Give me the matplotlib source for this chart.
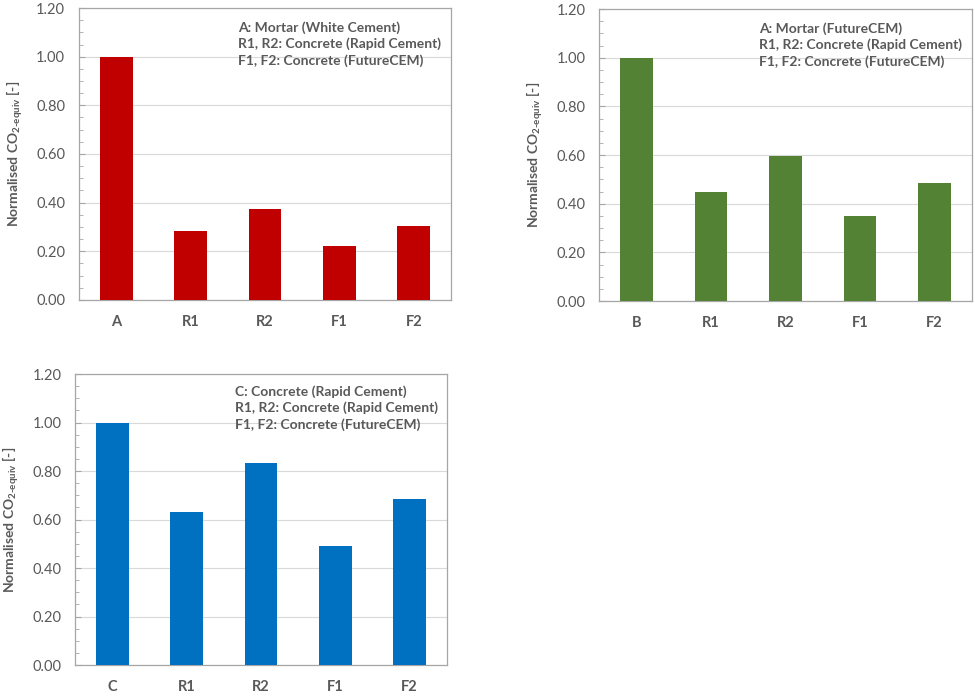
import matplotlib
matplotlib.use("Agg")
import matplotlib.pyplot as plt
from matplotlib.ticker import MultipleLocator, FormatStrFormatter

plt.rcParams['font.family'] = ['Lato', 'DejaVu Sans']
plt.rcParams['mathtext.fontset'] = 'custom'
plt.rcParams['mathtext.rm'] = 'Lato:bold'
plt.rcParams['mathtext.bf'] = 'Lato:bold'
plt.rcParams['mathtext.it'] = 'Lato:bold'

# Data
cats_a = ["A", "R1", "R2", "F1", "F2"]
vals_a = [1.00, 0.283, 0.374, 0.220, 0.304]
cats_b = ["B", "R1", "R2", "F1", "F2"]
vals_b = [1.00, 0.450, 0.595, 0.351, 0.487]
cats_c = ["C", "R1", "R2", "F1", "F2"]
vals_c = [1.00, 0.632, 0.835, 0.493, 0.683]

notes_a = ["A: Mortar (White Cement)", "R1, R2: Concrete (Rapid Cement)", "F1, F2: Concrete (FutureCEM)"]
notes_b = ["A: Mortar (FutureCEM)", "R1, R2: Concrete (Rapid Cement)", "F1, F2: Concrete (FutureCEM)"]
notes_c = ["C: Concrete (Rapid Cement)", "R1, R2: Concrete (Rapid Cement)", "F1, F2: Concrete (FutureCEM)"]

GREY = "#595959"
SPINE = "#a6a6a6"

fig = plt.figure(figsize=(9.75, 6.96), dpi=100)

panels = [
    ([0.0810, 0.5690, 0.3815, 0.4195], cats_a, vals_a, "#C00000", notes_a, (0.427, 0.955)),
    ([0.6147, 0.5675, 0.3820, 0.4195], cats_b, vals_b, "#548235", notes_b, (0.430, 0.955)),
    ([0.0772, 0.0445, 0.3810, 0.4180], cats_c, vals_c, "#0070C0", notes_c, (0.431, 0.962)),
]

for rect, cats, vals, color, notes, (tx, ty) in panels:
    ax = fig.add_axes(rect)
    x = list(range(len(cats)))
    ax.bar(x, vals, width=0.44, color=color, zorder=3)
    ax.set_xlim(-0.5, len(cats) - 0.5)
    ax.set_ylim(0, 1.2)
    ax.yaxis.set_major_locator(MultipleLocator(0.2))
    ax.yaxis.set_minor_locator(MultipleLocator(0.05))
    ax.yaxis.set_major_formatter(FormatStrFormatter('%.2f'))
    ax.set_xticks(x)
    ax.set_xticklabels(cats, fontweight='bold', color=GREY, fontsize=10.5)
    ax.tick_params(axis='x', length=0, pad=11)
    ax.tick_params(axis='y', which='both', direction='in', color=SPINE, labelcolor=GREY,
                   labelsize=10.5, pad=10)
    ax.tick_params(axis='y', which='major', length=4)
    ax.tick_params(axis='y', which='minor', length=3)
    ax.grid(axis='y', which='major', color='#d9d9d9', lw=0.8, zorder=0)
    for s in ax.spines.values():
        s.set_color(SPINE)
        s.set_linewidth(0.9)
    ax.set_ylabel(r"Normalised CO$_{\mathrm{2\text{-}equiv}}$ [-]", fontweight='bold',
                  color=GREY, fontsize=10)
    ax.yaxis.set_label_coords(-0.145, 0.5)
    ax.text(tx, ty, "\n".join(notes), transform=ax.transAxes, ha='left', va='top',
            fontweight='bold', color=GREY, fontsize=10, linespacing=1.35)

fig.savefig("out.png", dpi=100)
